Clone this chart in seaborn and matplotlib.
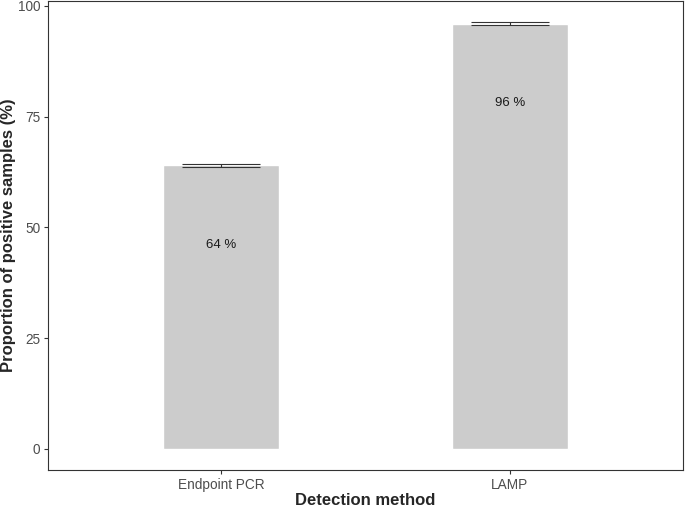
import numpy as np
import pandas as pd
import matplotlib
matplotlib.use("Agg")
import matplotlib.pyplot as plt
import seaborn as sns

methods = ["Endpoint PCR", "LAMP"]
positive_pct = [64, 96]
err = [0.4, 0.3]
labels = ["64 %", "96 %"]

df = pd.DataFrame({"method": methods, "pct": positive_pct})

sns.set_style("white")
plt.rcParams["font.family"] = ["Liberation Sans", "DejaVu Sans"]

fig = plt.figure(figsize=(6.85, 5.07), dpi=100)
ax = fig.add_axes([48 / 685, 1 - 470 / 507, 635 / 685, 469 / 507])

sns.barplot(data=df, x="method", y="pct", color="#CCCCCC", saturation=1,
            width=0.4, errorbar=None, ax=ax)
ax.errorbar(range(len(methods)), positive_pct, yerr=err, fmt="none",
            ecolor="#333333", elinewidth=0.8, capsize=28, capthick=0.8)

for i, (v, lab) in enumerate(zip(positive_pct, labels)):
    ax.text(i, v - 18, lab, ha="center", va="center", fontsize=9.5, color="#1a1a1a")

ax.set_xlim(-0.6, 1.6)
ax.set_ylim(-4.8, 101.1)
ax.set_yticks([0, 25, 50, 75, 100])
ax.tick_params(axis="both", which="both", length=3, width=0.8, color="#333333",
               labelcolor="#4D4D4D", labelsize=9.8, left=True, bottom=True, pad=2.5)

for s in ax.spines.values():
    s.set_color("#333333")
    s.set_linewidth(0.8)

ax.set_xlabel("Detection method", fontsize=12, fontweight="bold")
ax.set_ylabel("Proportion of positive samples (%)", fontsize=12, fontweight="bold")
# place axis titles where the reference has them
ax.xaxis.set_label_coords(0.5, -0.048)
ax.yaxis.set_label_coords(-0.05, 0.5)

fig.savefig("out.png", dpi=100)
